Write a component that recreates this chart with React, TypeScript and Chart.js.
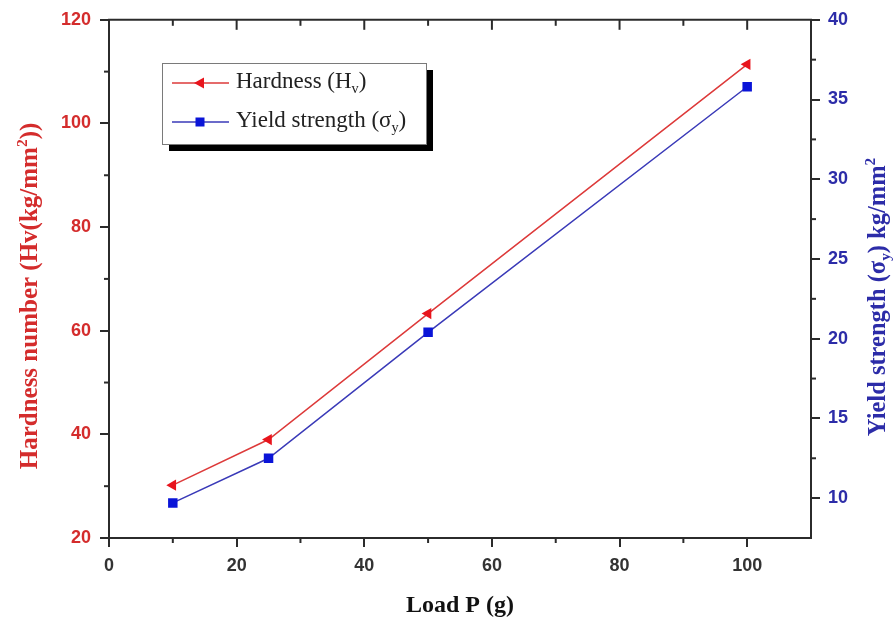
import React, { useEffect, useRef } from "react";
import { Chart, registerables } from "chart.js";

Chart.register(...registerables);

const loads = [10, 25, 50, 100];
const hardness = [30.2, 39.0, 63.3, 111.4];
const yieldStrength = [9.7, 12.5, 20.4, 35.8];

const xRange = [0, 110];
const leftRange = [20, 120];
const rightRange = [7.5, 40];

const RED = "#d42c2c";
const BLUE = "#2c2ca8";
const AXIS = "#2b2b2b";
const RED_LINE = "#dd3a3a";
const RED_MARK = "#e8141c";
const BLUE_LINE = "#3a3ab8";
const BLUE_MARK = "#0a14d8";

type Part = { t: string; s?: "sup" | "sub" };

function richWidth(ctx: CanvasRenderingContext2D, parts: Part[], size: number, family: string, weight: string) {
  let w = 0;
  for (const p of parts) {
    const fs = p.s ? size * 0.62 : size;
    ctx.font = `${weight} ${fs}px ${family}`;
    w += ctx.measureText(p.t).width;
  }
  return w;
}

function drawRich(ctx: CanvasRenderingContext2D, parts: Part[], x: number, y: number, size: number, family: string, weight: string, color: string) {
  let cx = x;
  ctx.fillStyle = color;
  ctx.textBaseline = "alphabetic";
  ctx.textAlign = "left";
  for (const p of parts) {
    const fs = p.s ? size * 0.62 : size;
    ctx.font = `${weight} ${fs}px ${family}`;
    const dy = p.s === "sup" ? -size * 0.42 : p.s === "sub" ? size * 0.22 : 0;
    ctx.fillText(p.t, cx, y + dy);
    cx += ctx.measureText(p.t).width;
  }
}

const SERIF = '"Liberation Serif", "Times New Roman", serif';

const decor = {
  id: "decor",
  afterDraw(chart: any) {
    const { ctx, chartArea: a, scales } = chart;
    const x = scales.x, yl = scales.y, yr = scales.y1;
    ctx.save();
    ctx.strokeStyle = AXIS;
    ctx.lineWidth = 2;
    const ln = (x1: number, y1: number, x2: number, y2: number) => {
      ctx.beginPath();
      ctx.moveTo(x1, y1);
      ctx.lineTo(x2, y2);
      ctx.stroke();
    };
    ln(a.left - 1, a.top, a.right + 1, a.top);
    // x ticks: top inward, bottom minor outward
    for (let v = xRange[0]; v <= xRange[1]; v += 10) {
      const px = x.getPixelForValue(v);
      const major = v % 20 === 0;
      if (px > a.left + 2 && px < a.right - 2) ln(px, a.top, px, a.top + (major ? 10 : 6));
      if (!major && v < xRange[1]) ln(px, a.bottom, px, a.bottom + 5);
    }
    for (let v = leftRange[0] + 10; v < leftRange[1]; v += 20) {
      const py = yl.getPixelForValue(v);
      ln(a.left - 5, py, a.left, py);
    }
    for (let v = 12.5; v < rightRange[1]; v += 5) {
      const py = yr.getPixelForValue(v);
      ln(a.right, py, a.right + 5, py);
    }

    // axis titles
    const tsize = 25;
    const leftParts: Part[] = [{ t: "Hardness number (Hv(kg/mm" }, { t: "2", s: "sup" }, { t: "))" }];
    const lw = richWidth(ctx, leftParts, tsize, SERIF, "bold");
    ctx.save();
    ctx.translate(37, 296);
    ctx.rotate(-Math.PI / 2);
    drawRich(ctx, leftParts, -lw / 2, 0, tsize, SERIF, "bold", RED);
    ctx.restore();

    const rightParts: Part[] = [{ t: "Yield strength (σ" }, { t: "y", s: "sub" }, { t: ") kg/mm" }, { t: "2", s: "sup" }];
    const rw = richWidth(ctx, rightParts, 24.5, SERIF, "bold");
    ctx.save();
    ctx.translate(885, 297);
    ctx.rotate(-Math.PI / 2);
    drawRich(ctx, rightParts, -rw / 2, 0, 24.5, SERIF, "bold", BLUE);
    ctx.restore();

    const xParts: Part[] = [{ t: "Load P (g)" }];
    const xw = richWidth(ctx, xParts, 24, SERIF, "bold");
    drawRich(ctx, xParts, (a.left + a.right) / 2 - xw / 2, 612, 24, SERIF, "bold", "#111");

    // legend
    const bx = 162, by = 63, bw = 264, bh = 81, sh = 7;
    ctx.fillStyle = "#000";
    ctx.fillRect(bx + sh, by + sh, bw, bh);
    ctx.fillStyle = "#fff";
    ctx.fillRect(bx, by, bw, bh);
    ctx.strokeStyle = "#7a7a7a";
    ctx.lineWidth = 1;
    ctx.strokeRect(bx + 0.5, by + 0.5, bw, bh);

    const lsize = 23;
    const rows = [
      { y: 83, line: RED_LINE, mark: RED_MARK, shape: "tri", parts: [{ t: "Hardness (H" }, { t: "v", s: "sub" }, { t: ")" }] as Part[] },
      { y: 122, line: BLUE_LINE, mark: BLUE_MARK, shape: "rect", parts: [{ t: "Yield strength (σ" }, { t: "y", s: "sub" }, { t: ")" }] as Part[] },
    ];
    for (const r of rows) {
      ctx.strokeStyle = r.line;
      ctx.lineWidth = 1.5;
      ln(172, r.y, 229, r.y);
      ctx.fillStyle = r.mark;
      const cx = 200;
      if (r.shape === "tri") {
        ctx.beginPath();
        ctx.moveTo(cx - 6, r.y);
        ctx.lineTo(cx + 4, r.y - 5.5);
        ctx.lineTo(cx + 4, r.y + 5.5);
        ctx.closePath();
        ctx.fill();
      } else {
        ctx.fillRect(cx - 4.5, r.y - 4.5, 9, 9);
      }
      drawRich(ctx, r.parts, 236, r.y + 5, lsize, SERIF, "normal", "#222");
    }
    ctx.restore();
  },
};

const tickFont = { family: '"Liberation Sans", Arial, sans-serif', size: 18, weight: "bold" as const };

export default function App() {
  const ref = useRef<HTMLCanvasElement | null>(null);
  useEffect(() => {
    if (!ref.current) return;
    const chart = new Chart(ref.current, {
      type: "line",
      data: {
        datasets: [
          {
            label: "Hardness (Hv)",
            data: loads.map((l, i) => ({ x: l, y: hardness[i] })),
            yAxisID: "y",
            borderColor: RED_LINE,
            backgroundColor: RED_MARK,
            borderWidth: 1.5,
            pointStyle: "triangle",
            rotation: -90,
            pointRadius: 6.5,
            pointBorderWidth: 0,
            pointBackgroundColor: RED_MARK,
          },
          {
            label: "Yield strength (σy)",
            data: loads.map((l, i) => ({ x: l, y: yieldStrength[i] })),
            yAxisID: "y1",
            borderColor: BLUE_LINE,
            backgroundColor: BLUE_MARK,
            borderWidth: 1.5,
            pointStyle: "rect",
            pointRadius: 6.7,
            pointBorderWidth: 0,
            pointBackgroundColor: BLUE_MARK,
          },
        ],
      },
      options: {
        responsive: false,
        animation: false,
        devicePixelRatio: 1,
        layout: { padding: { top: 16, left: 0, right: 0, bottom: 0 } },
        plugins: { legend: { display: false }, tooltip: { enabled: false } },
        scales: {
          x: {
            type: "linear",
            position: "bottom",
            min: xRange[0],
            max: xRange[1],
            ticks: { stepSize: 20, color: "#333", font: tickFont, padding: 8 },
            grid: { drawOnChartArea: false, drawTicks: true, tickLength: 9, color: AXIS, lineWidth: 2 },
            border: { color: AXIS, width: 2 },
            afterBuildTicks: (s: any) => {
              s.ticks = s.ticks.filter((t: any) => t.value % 20 === 0);
            },
            afterFit: (s: any) => {
              s.height = 83;
            },
          },
          y: {
            type: "linear",
            position: "left",
            min: leftRange[0],
            max: leftRange[1],
            ticks: { stepSize: 20, color: RED, font: tickFont, padding: 9 },
            grid: { drawOnChartArea: false, drawTicks: true, tickLength: 9, color: AXIS, lineWidth: 2 },
            border: { color: AXIS, width: 2 },
            afterFit: (s: any) => {
              s.width = 109;
            },
          },
          y1: {
            type: "linear",
            position: "right",
            min: rightRange[0],
            max: rightRange[1],
            ticks: { stepSize: 5, color: BLUE, font: tickFont, padding: 8 },
            grid: { drawOnChartArea: false, drawTicks: true, tickLength: 9, color: AXIS, lineWidth: 2 },
            border: { color: AXIS, width: 2 },
            afterBuildTicks: (s: any) => {
              s.ticks = s.ticks.filter((t: any) => t.value % 5 === 0);
            },
            afterFit: (s: any) => {
              s.width = 85;
            },
          },
        },
      },
      plugins: [decor],
    } as any);
    return () => chart.destroy();
  }, []);
  return (
    <div style={{ position: "absolute", left: 0, top: 0, width: 896, height: 621, background: "#fff" }}>
      <canvas ref={ref} width={896} height={621} style={{ display: "block" }} />
    </div>
  );
}
